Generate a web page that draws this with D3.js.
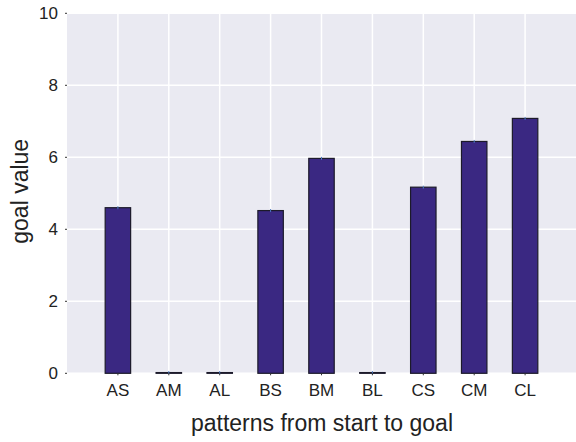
<!DOCTYPE html>
<html>
<head>
<meta charset="utf-8">
<script src="https://cdn.jsdelivr.net/npm/d3@7"></script>
<style>
  html, body { margin: 0; padding: 0; background: #ffffff; }
  svg { display: block; font-family: "Liberation Sans", Arial, Helvetica, sans-serif; }
</style>
</head>
<body>
<svg id="chart" width="576" height="442"></svg>
<script>
// Goal value reached for each start-to-goal pattern
const categories = ["AS", "AM", "AL", "BS", "BM", "BL", "CS", "CM", "CL"];
const goalValues = [4.60, 0.02, 0.02, 4.52, 5.97, 0.02, 5.17, 6.44, 7.08];
const yTicks = [0, 2, 4, 6, 8, 10];

const svg = d3.select("#chart");
const margin = { left: 67, right: 0, top: 13.3, bottom: 68.7 };
const W = 576, H = 442;
const plotW = W - margin.left - margin.right;
const plotH = H - margin.top - margin.bottom;

// categories sit at positions 1..9 on a 0..10 axis
const x = d3.scaleLinear().domain([0, categories.length + 1]).range([0, plotW]);
const y = d3.scaleLinear().domain([0, 10]).range([plotH, 0]);
const barW = (x(1) - x(0)) * 0.5;

const g = svg.append("g").attr("transform", `translate(${margin.left},${margin.top})`);

// plot background
g.append("rect").attr("x", 0).attr("y", 0).attr("width", plotW).attr("height", plotH).attr("fill", "#eaeaf2");

// horizontal grid
g.selectAll(".hgrid").data(yTicks).enter().append("line")
  .attr("x1", 0).attr("x2", plotW)
  .attr("y1", d => y(d)).attr("y2", d => y(d))
  .attr("stroke", "#ffffff").attr("stroke-width", 1.5);

// vertical grid at each category
g.selectAll(".vgrid").data(categories).enter().append("line")
  .attr("x1", (d, i) => x(i + 1)).attr("x2", (d, i) => x(i + 1))
  .attr("y1", 0).attr("y2", plotH)
  .attr("stroke", "#ffffff").attr("stroke-width", 1.5);

// bars
g.selectAll(".bar").data(goalValues).enter().append("rect")
  .attr("x", (d, i) => x(i + 1) - barW / 2)
  .attr("y", d => y(d))
  .attr("width", barW)
  .attr("height", d => y(0) - y(d))
  .attr("fill", "#3a2882")
  .attr("stroke", "#1c1a2a")
  .attr("stroke-width", 1.2);

// small error markers at bar tops
g.selectAll(".err").data(goalValues).enter().append("line")
  .attr("x1", (d, i) => x(i + 1)).attr("x2", (d, i) => x(i + 1))
  .attr("y1", d => y(d) - 1.5).attr("y2", d => y(d) + 1.5)
  .attr("stroke", "#4a78c0").attr("stroke-width", 1);

// y axis ticks and labels
const yAxis = g.append("g");
yAxis.selectAll("line").data(yTicks).enter().append("line")
  .attr("x1", -2).attr("x2", 0)
  .attr("y1", d => y(d)).attr("y2", d => y(d))
  .attr("stroke", "#333").attr("stroke-width", 1);
yAxis.selectAll("text").data(yTicks).enter().append("text")
  .attr("x", -9).attr("y", d => y(d)).attr("dy", "0.34em")
  .attr("text-anchor", "end").attr("font-size", 17).attr("fill", "#222")
  .text(d => d);

// x axis ticks and labels
const xAxis = g.append("g");
xAxis.selectAll("line").data(categories).enter().append("line")
  .attr("x1", (d, i) => x(i + 1)).attr("x2", (d, i) => x(i + 1))
  .attr("y1", plotH).attr("y2", plotH + 2)
  .attr("stroke", "#333").attr("stroke-width", 1);
xAxis.selectAll("text").data(categories).enter().append("text")
  .attr("x", (d, i) => x(i + 1)).attr("y", plotH + 22.5)
  .attr("text-anchor", "middle").attr("font-size", 17).attr("fill", "#222")
  .text(d => d);

// axis titles
svg.append("text")
  .attr("x", 322).attr("y", 431)
  .attr("text-anchor", "middle").attr("font-size", 23).attr("fill", "#222")
  .text("patterns from start to goal");
svg.append("text")
  .attr("transform", `translate(28,${margin.top + plotH / 2 - 2}) rotate(-90)`)
  .attr("text-anchor", "middle").attr("font-size", 23).attr("fill", "#222")
  .text("goal value");
</script>
</body>
</html>
